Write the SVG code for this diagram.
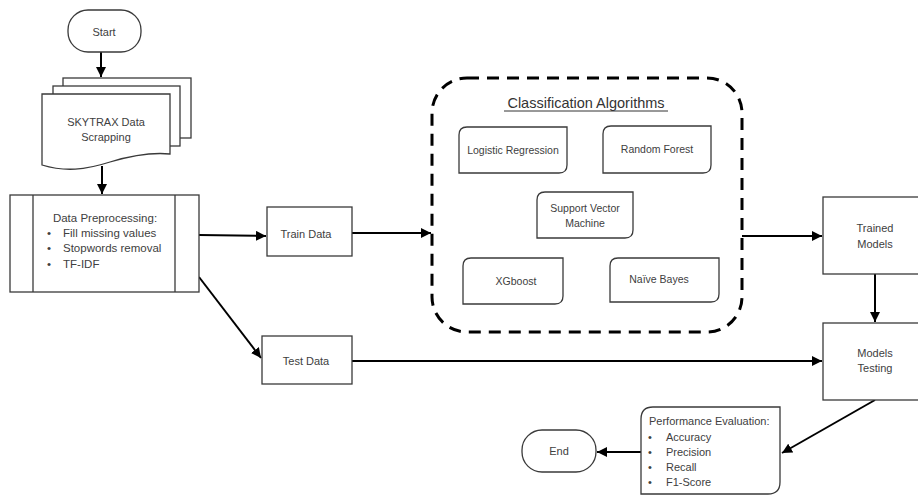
<svg xmlns="http://www.w3.org/2000/svg" width="918" height="496" viewBox="0 0 918 496">
<defs>
<style>
.s{fill:#fff;stroke:#3a3a3a;stroke-width:1.3}
.t{font-family:"Liberation Sans",Arial,sans-serif;font-size:11px;fill:#404040}
.c{text-anchor:middle}
.e{fill:none;stroke:#000;stroke-width:2}
</style>
<marker id="a" viewBox="0 0 10 10" refX="10" refY="5" markerWidth="5" markerHeight="5" orient="auto" markerUnits="strokeWidth">
<path d="M0,0 L10,5 L0,10 Z" fill="#000"/>
</marker>
</defs>
<rect width="918" height="496" fill="#fff"/>

<g id="connectors">
<line class="e" x1="101" y1="52" x2="101" y2="77" marker-end="url(#a)"/>
<line class="e" x1="102" y1="166" x2="102" y2="194" marker-end="url(#a)"/>
<line class="e" x1="199" y1="235" x2="266" y2="236" marker-end="url(#a)"/>
<line class="e" x1="352" y1="233" x2="431" y2="233" marker-end="url(#a)"/>
<line class="e" x1="199" y1="277" x2="261" y2="358" marker-end="url(#a)"/>
<line class="e" x1="352" y1="361" x2="822" y2="361" marker-end="url(#a)"/>
<line class="e" x1="742" y1="236" x2="822" y2="236" marker-end="url(#a)"/>
<line class="e" x1="875" y1="274" x2="875" y2="322" marker-end="url(#a)"/>
<line class="e" x1="875" y1="400" x2="782" y2="453" marker-end="url(#a)"/>
<line class="e" x1="641" y1="452" x2="597" y2="452" marker-end="url(#a)"/>
</g>

<g id="start">
<rect class="s" x="68" y="10" width="73" height="42" rx="20"/>
<text class="t c" x="104" y="36">Start</text>
</g>

<g id="scrapping">
<rect class="s" x="63" y="78" width="128" height="60"/>
<rect class="s" x="53" y="86" width="127" height="60"/>
<path class="s" d="M42,94 H170 V154 C150,152 130,156 110,162 C85,170 65,172 42,165 Z"/>
<text class="t c" x="106" y="126">SKYTRAX Data</text>
<text class="t c" x="106" y="141">Scrapping</text>
</g>

<g id="preprocessing">
<rect class="s" x="10" y="195" width="189" height="97"/>
<line class="s" x1="33" y1="195" x2="33" y2="292"/>
<line class="s" x1="175" y1="195" x2="175" y2="292"/>
<text class="t c" x="105" y="222" style="font-size:11.5px">Data Preprocessing:</text>
<text class="t" x="47" y="237" style="font-size:11.5px">•</text>
<text class="t" x="63" y="237" style="font-size:11.5px">Fill missing values</text>
<text class="t" x="47" y="252" style="font-size:11.5px">•</text>
<text class="t" x="63" y="252" style="font-size:11.5px">Stopwords removal</text>
<text class="t" x="47" y="268" style="font-size:11.5px">•</text>
<text class="t" x="63" y="268" style="font-size:11.5px">TF-IDF</text>
</g>

<g id="train">
<rect class="s" x="267" y="207" width="85" height="49"/>
<text class="t c" x="306" y="238">Train Data</text>
</g>

<g id="test">
<rect class="s" x="262" y="336" width="90" height="48"/>
<text class="t c" x="306" y="365">Test Data</text>
</g>

<g id="algorithms">
<rect x="432" y="78" width="310" height="254" rx="35" fill="none" stroke="#000" stroke-width="3" stroke-dasharray="12 8"/>
<text class="t c" x="586" y="108" style="font-size:14.5px;fill:#333">Classification Algorithms</text>
<line x1="504" y1="111" x2="668" y2="111" stroke="#333" stroke-width="1"/>
</g>

<g id="logistic">
<path class="s" d="M459,135 Q459,127 467,127 H567 V165 Q567,173 559,173 H459 Z"/>
<text class="t c" x="513" y="154" style="font-size:10.5px">Logistic Regression</text>
</g>

<g id="randomforest">
<path class="s" d="M603,134 Q603,126 611,126 H711 V165 Q711,173 703,173 H603 Z"/>
<text class="t c" x="657" y="153" style="font-size:10.5px">Random Forest</text>
</g>

<g id="svm">
<path class="s" d="M537,200 Q537,192 545,192 H633 V230 Q633,238 625,238 H537 Z"/>
<text class="t c" x="585" y="212" style="font-size:10.5px">Support Vector</text>
<text class="t c" x="585" y="227" style="font-size:10.5px">Machine</text>
</g>

<g id="xgboost">
<path class="s" d="M463,266 Q463,258 471,258 H563 V296 Q563,304 555,304 H463 Z"/>
<text class="t c" x="516" y="285" style="font-size:10.5px">XGboost</text>
</g>

<g id="naivebayes">
<path class="s" d="M610,266 Q610,258 618,258 H719 V294 Q719,302 711,302 H610 Z"/>
<text class="t c" x="659" y="283" style="font-size:10.5px">Naïve Bayes</text>
</g>

<g id="trained">
<rect class="s" x="823" y="197" width="110" height="77"/>
<text class="t c" x="875" y="232">Trained</text>
<text class="t c" x="875" y="248">Models</text>
</g>

<g id="testing">
<rect class="s" x="823" y="323" width="110" height="77"/>
<text class="t c" x="875" y="357">Models</text>
<text class="t c" x="875" y="372">Testing</text>
</g>

<g id="performance">
<path class="s" d="M641,419 Q641,407 653,407 H780 V482 Q780,494 768,494 H641 Z"/>
<text class="t" x="649" y="425">Performance Evaluation:</text>
<text class="t" x="648" y="441">•</text>
<text class="t" x="666" y="441">Accuracy</text>
<text class="t" x="648" y="456">•</text>
<text class="t" x="666" y="456">Precision</text>
<text class="t" x="648" y="471">•</text>
<text class="t" x="666" y="471">Recall</text>
<text class="t" x="648" y="486">•</text>
<text class="t" x="666" y="486">F1-Score</text>
</g>

<g id="end">
<rect class="s" x="522" y="430" width="74" height="42" rx="20"/>
<text class="t c" x="559" y="455">End</text>
</g>
</svg>
